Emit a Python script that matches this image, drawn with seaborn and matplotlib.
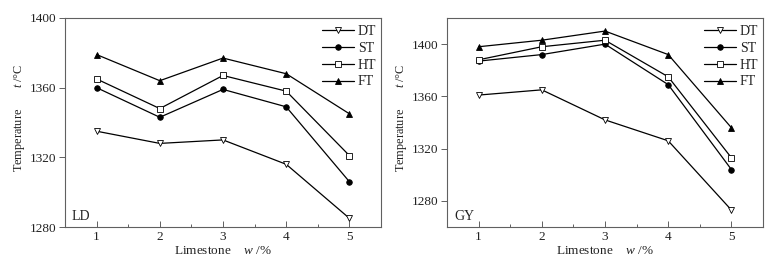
import matplotlib
matplotlib.use("Agg")
import matplotlib.pyplot as plt
import seaborn as sns
import pandas as pd
from matplotlib.ticker import MultipleLocator

limestone = [1, 2, 3, 4, 5]
series_names = ["DT", "ST", "HT", "FT"]

ld_dt = [1335, 1328, 1330, 1316, 1285]
ld_st = [1360, 1343, 1359, 1349, 1306]
ld_ht = [1365, 1348, 1367, 1358, 1321]
ld_ft = [1379, 1364, 1377, 1368, 1345]

gy_dt = [1361, 1365, 1342, 1326, 1273]
gy_st = [1387, 1392, 1400, 1369, 1304]
gy_ht = [1388, 1398, 1403, 1375, 1313]
gy_ft = [1398, 1403, 1410, 1392, 1336]

ld_yticks = [1280, 1320, 1360, 1400]
gy_yticks = [1280, 1320, 1360, 1400]

sns.set_theme(style="ticks")
plt.rcParams["font.family"] = ["Liberation Serif", "DejaVu Serif"]
plt.rcParams["mathtext.fontset"] = "custom"
plt.rcParams["mathtext.rm"] = "Liberation Serif"
plt.rcParams["mathtext.it"] = "Liberation Serif:italic"

fig = plt.figure(figsize=(7.75, 2.63), dpi=100)
ax1 = fig.add_axes([65/775, 36/263, 316/775, 209/263])
ax2 = fig.add_axes([447/775, 36/263, 316/775, 209/263])

styles = {
    "DT": dict(marker="v", markerfacecolor="white"),
    "ST": dict(marker="o", markerfacecolor="black"),
    "HT": dict(marker="s", markerfacecolor="white"),
    "FT": dict(marker="^", markerfacecolor="black"),
}

spine_c = "#606060"
text_c = "#222222"

def draw(ax, data, yticks, ylim, tag):
    for name, vals in zip(series_names, data):
        df = pd.DataFrame({"x": limestone, "y": vals})
        sns.lineplot(data=df, x="x", y="y", ax=ax, color="black", linewidth=0.9,
                     markersize=4, markeredgecolor="black", markeredgewidth=0.6,
                     label=name, **styles[name])
    ax.set_xlim(0.5, 5.5)
    ax.set_ylim(*ylim)
    ax.set_xticks(limestone)
    ax.xaxis.set_minor_locator(MultipleLocator(0.5))
    ax.set_yticks(yticks)
    ax.tick_params(axis="x", which="major", direction="in", length=4, width=0.7,
                   colors=spine_c, labelcolor=text_c, labelsize=9.5, pad=3)
    ax.tick_params(axis="x", which="minor", direction="in", length=2, width=0.7, colors=spine_c)
    ax.tick_params(axis="y", which="major", direction="out", length=4, width=0.7,
                   colors=spine_c, labelcolor=text_c, labelsize=9.5, pad=2)
    for s in ax.spines.values():
        s.set_color(spine_c)
        s.set_linewidth(0.8)
        s.set_visible(True)
    ax.set_xlabel(r"Limestone    $\it{w}$ /%", fontsize=9.5, color=text_c, labelpad=1)
    ax.set_ylabel(r"Temperature       $\it{t}$ /°C", fontsize=8.8, color=text_c)
    ax.yaxis.set_label_coords(-0.12, 0.52)
    ax.text(0.022, 0.035, tag, transform=ax.transAxes, fontsize=10, color=text_c,
            ha="left", va="baseline")
    leg = ax.legend(loc="upper right", frameon=False, fontsize=10, handlelength=2.3,
                    handletextpad=0.3, labelspacing=0.28, borderaxespad=0.3,
                    bbox_to_anchor=(1.016, 1.014))
    for t in leg.get_texts():
        t.set_color(text_c)

draw(ax1, [ld_dt, ld_st, ld_ht, ld_ft], ld_yticks, (1280, 1400), "LD")
draw(ax2, [gy_dt, gy_st, gy_ht, gy_ft], gy_yticks, (1260, 1420), "GY")

fig.savefig("out.png", dpi=100)
